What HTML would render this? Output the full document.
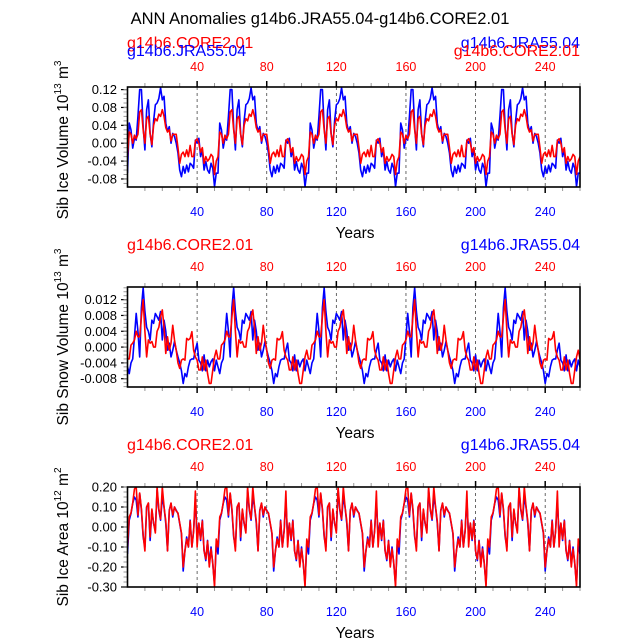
<!DOCTYPE html>
<html><head><meta charset="utf-8"><style>
html,body{margin:0;padding:0;background:#fff;}
svg{display:block;font-family:"Liberation Sans",Arial,sans-serif;}
</style></head><body>
<svg id="c" width="638" height="638" viewBox="0 0 638 638">
<text x="320" y="24" font-size="16.5" text-anchor="middle">ANN Anomalies g14b6.JRA55.04-g14b6.CORE2.01</text>
</svg>
<script>
// One 52-year forcing cycle per series (data repeats every 52 years)
const iceVolBlue=[-0.067,0.045,0.03,-0.011,0.011,0.007,0.06,0.12,0.12,0.037,-0.015,0.075,0.097,0.022,-0.008,0.05,0.086,0.09,0.10,0.124,0.097,0.105,0.045,0.026,0.037,0,0.022,0.015,0,-0.022,-0.06,-0.075,-0.052,-0.067,-0.049,-0.064,-0.045,-0.049,-0.056,0.007,0,0.011,-0.03,-0.015,-0.06,-0.041,-0.06,-0.067,-0.045,-0.056,-0.097,-0.067];
const iceVolRed=[-0.03,0.025,0.02,0,0.018,0.01,0.02,0.07,0.075,0.03,0,0.055,0.06,0.02,-0.003,0.04,0.055,0.05,0.065,0.06,0.075,0.06,0.035,0.025,0.03,0.005,0.02,0.02,0.02,-0.01,-0.045,-0.025,-0.02,-0.03,-0.015,-0.03,-0.005,-0.03,-0.03,0.005,0.01,0,-0.02,-0.01,-0.045,-0.03,-0.04,-0.035,-0.025,-0.03,-0.07,-0.04];
const snowBlue=[-0.005,-0.0067,-0.004,-0.003,0.0026,0.0085,0.004,-0.0025,0.010,0.015,0.009,0.005,0.004,0.0018,0.0068,0.006,0.0085,0.0077,0.0068,0.009,0.0018,0.0068,0.004,-0.0008,0.001,-0.0025,-0.0008,0.0014,-0.0008,-0.0025,-0.004,-0.006,-0.0092,-0.0067,-0.0075,-0.005,-0.0033,-0.003,-0.003,-0.0008,0.001,-0.0033,-0.004,-0.006,-0.002,-0.006,-0.0033,-0.005,-0.0037,-0.003,-0.006,-0.0033];
const snowRed=[-0.003,-0.003,0.0005,0.001,0.0018,0.004,0.0026,0.0026,0.0077,0.012,0.004,-0.0025,0.0018,0.001,0.0014,0,0,0.004,0.005,0.0077,0.0094,0.005,-0.0016,0.0026,-0.0008,0.001,0.0055,0.0018,-0.0008,-0.004,-0.0054,-0.0033,-0.003,-0.0033,0.0022,0.0018,0.0022,0.0039,-0.0008,-0.0025,-0.0033,-0.0058,-0.0058,-0.0025,-0.0058,-0.0033,-0.0067,-0.0092,-0.0092,-0.0058,-0.0025,-0.0008];
const areaBlue=[-0.135,0.034,0.067,0.118,0.15,0.135,0.05,0.168,0.084,-0.05,-0.1,0.1,0.118,-0.067,0.084,0.017,-0.017,0.185,0.084,0.034,0.15,0.1,0.017,-0.118,0.084,0.118,0.05,0.1,0.084,0.067,0.017,-0.034,-0.22,-0.118,-0.05,-0.1,0.034,-0.1,-0.017,0.135,-0.05,0.017,-0.067,0.034,-0.118,-0.168,-0.067,-0.185,-0.1,-0.185,-0.286,-0.084];
const areaRed=[-0.1,0.05,0.07,0.12,0.19,0.2,0.06,0.17,0.09,-0.04,-0.12,0.1,0.12,-0.05,0.09,0.02,-0.03,0.2,0.09,0.04,0.2,0.1,0.03,-0.12,0.08,0.12,0.06,0.1,0.08,0.07,0.02,-0.03,-0.2,-0.12,-0.06,-0.1,0.03,-0.1,-0.02,0.18,-0.1,0.02,-0.06,0.03,-0.12,-0.16,-0.07,-0.2,-0.11,-0.18,-0.3,-0.06];
const xTicks=[40,80,120,160,200,240];
const ticks1=["0.12","0.08","0.04","0.00","-0.04","-0.08"];
const ticks2=["0.012","0.008","0.004","0.000","-0.004","-0.008"];
const ticks3=["0.20","0.10","0.00","-0.10","-0.20","-0.30"];

const NS="http://www.w3.org/2000/svg";
const svg=document.getElementById('c');
function mk(tag,attrs,parent){const e=document.createElementNS(NS,tag);for(const k in attrs)e.setAttribute(k,attrs[k]);(parent||svg).appendChild(e);return e;}
function tile(a){const r=[];for(let i=0;i<=260;i++)r.push(a[i%a.length]);return r;}
const X0=127.5,X1=580,Y0=0,Y1=260;
function xs(v){return X0+(v-Y0)/(Y1-Y0)*(X1-X0);}

const panels=[
 {top:87,bot:187,vmax:0.1258,vmin:-0.098,ticks:ticks1,step:0.01,blue:iceVolBlue,red:iceVolRed,t1:"Sib Ice Volume 10",sup:"13",unit:" m",usup:"3",ycen:140,name:"ice-volume",labY1:48,labY2:56,swap:true},
 {top:287,bot:387,vmax:0.0152,vmin:-0.0101,ticks:ticks2,step:0.001,blue:snowBlue,red:snowRed,t1:"Sib Snow Volume 10",sup:"13",unit:" m",usup:"3",ycen:337,name:"snow-volume",labY1:250,labY2:250,swap:false},
 {top:487,bot:587,vmax:0.2,vmin:-0.3,ticks:ticks3,step:0.025,blue:areaBlue,red:areaRed,t1:"Sib Ice Area 10",sup:"12",unit:" m",usup:"2",ycen:537,name:"ice-area",labY1:450,labY2:450,swap:false}
];
panels.forEach(p=>{
 const g=mk('g',{});
 
 
 const ys=v=>p.top+(p.vmax-v)/(p.vmax-p.vmin)*(p.bot-p.top);
 if(p.swap){
  let t=mk('text',{x:127,y:p.labY1,'font-size':16,fill:'#f00'},g);t.textContent='g14b6.CORE2.01';
  
  t=mk('text',{x:127,y:p.labY2,'font-size':16,fill:'#00f'},g);t.textContent='g14b6.JRA55.04';
  
  t=mk('text',{x:580,y:p.labY1,'font-size':16,fill:'#00f','text-anchor':'end'},g);t.textContent='g14b6.JRA55.04';
  
  t=mk('text',{x:580,y:p.labY2,'font-size':16,fill:'#f00','text-anchor':'end'},g);t.textContent='g14b6.CORE2.01';
  
 } else {
  let t=mk('text',{x:127,y:p.labY1,'font-size':16,fill:'#f00'},g);t.textContent='g14b6.CORE2.01';
  
  t=mk('text',{x:580,y:p.labY1,'font-size':16,fill:'#00f','text-anchor':'end'},g);t.textContent='g14b6.JRA55.04';
  
 }
 for(let v=10;v<=260;v+=10){
  const x=xs(v),maj=v%40===0;
  mk('line',{x1:x,x2:x,y1:p.top,y2:p.top-(maj?6:4),stroke:maj?'#000':'#999','stroke-width':maj?1.5:1},g);
  mk('line',{x1:x,x2:x,y1:p.bot,y2:p.bot+(maj?6:4),stroke:maj?'#000':'#999','stroke-width':maj?1.5:1},g);
 }
 xTicks.forEach(v=>{
  const x=xs(v);
  mk('line',{x1:x,x2:x,y1:p.top,y2:p.bot,stroke:'#444','stroke-width':0.8,'stroke-dasharray':'3,3'},g);
  let t=mk('text',{x:x,y:p.top-16,'font-size':12.5,fill:'#f00','text-anchor':'middle'},g);t.textContent=v;
  
  t=mk('text',{x:x,y:p.bot+29,'font-size':12.5,fill:'#00f','text-anchor':'middle'},g);t.textContent=v;
  
 });
 p.ticks.forEach(s=>{
  const v=parseFloat(s),y=ys(v);
  mk('line',{x1:127.5,x2:121,y1:y,y2:y,stroke:'#000','stroke-width':1.2},g);
  const t=mk('text',{x:117,y:y+4.5,'font-size':13,'text-anchor':'end'},g);t.textContent=s;
  
 });
 for(let v=Math.ceil(p.vmin/p.step)*p.step;v<=p.vmax;v+=p.step){
  const y=ys(v);mk('line',{x1:127.5,x2:123.5,y1:y,y2:y,stroke:'#999','stroke-width':1},g);
 }
 const clipId='clip'+p.name;
 const cp=mk('clipPath',{id:clipId},g);mk('rect',{x:X0,y:p.top,width:X1-X0,height:p.bot-p.top},cp);
 [['blue',p.blue,'#00f'],['red',p.red,'#f00']].forEach(([nm,arr,col])=>{
  const d=tile(arr).map((v,i)=>(i?'L':'M')+xs(i).toFixed(2)+','+ys(v).toFixed(2)).join('');
  const pa=mk('path',{d:d,fill:'none',stroke:col,'stroke-width':1.6,'stroke-linejoin':'round','clip-path':'url(#'+clipId+')'},g);
  
  
 });
 mk('rect',{x:X0,y:p.top,width:X1-X0,height:p.bot-p.top,fill:'none',stroke:'#000','stroke-width':1.6},g);
 let t=mk('text',{x:355,y:p.bot+51,'font-size':15.5,'text-anchor':'middle'},g);t.textContent='Years';
 
 t=mk('text',{x:0,y:0,'font-size':15.5,'text-anchor':'middle',transform:'translate(68,'+p.ycen+') rotate(-90)'},g);
 
 const a=mk('tspan',{},t);a.textContent=p.t1;
 const b=mk('tspan',{dy:-7,'font-size':10},t);b.textContent=p.sup;
 const c=mk('tspan',{dy:7},t);c.textContent=p.unit;
 const d=mk('tspan',{dy:-7,'font-size':10},t);d.textContent=p.usup;
});
</script>
</body></html>
